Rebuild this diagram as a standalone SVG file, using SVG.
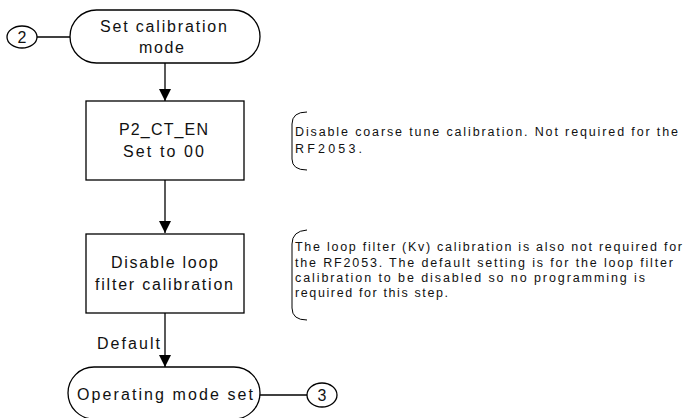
<svg xmlns="http://www.w3.org/2000/svg" width="684" height="418" viewBox="0 0 684 418">
<style>
.s{fill:#fff;stroke:#000;stroke-width:1.3}
.l{fill:none;stroke:#000;stroke-width:1.3}
.b{fill:none;stroke:#000;stroke-width:1}
.t{font-family:"Liberation Sans",Arial,sans-serif;font-size:16px;fill:#111}
.a{font-family:"Liberation Sans",Arial,sans-serif;font-size:12.5px;fill:#111}
</style>
<defs>
<marker id="ah" markerWidth="12" markerHeight="14" refX="12" refY="6" orient="auto" markerUnits="userSpaceOnUse">
<path d="M0,0 L12,6 L0,12 Z" fill="#000"/>
</marker>
</defs>
<g id="connectors">
<line class="l" x1="37" y1="37" x2="70" y2="37"/>
<line class="l" x1="165" y1="63" x2="165" y2="101" marker-end="url(#ah)"/>
<line class="l" x1="165" y1="180" x2="165" y2="233" marker-end="url(#ah)"/>
<line class="l" x1="165" y1="313" x2="165" y2="367" marker-end="url(#ah)"/>
<line class="l" x1="260" y1="395" x2="307" y2="395"/>
<text class="t" x="97" y="349" textLength="63" lengthAdjust="spacing">Default</text>
</g>
<g id="c2">
<ellipse class="s" cx="22" cy="37" rx="15" ry="11"/>
<text class="t" x="22" y="43" text-anchor="middle">2</text>
</g>
<g id="start">
<rect class="s" x="70" y="10" width="190" height="53" rx="26.5"/>
<text class="t" x="100" y="32" textLength="127" lengthAdjust="spacing">Set calibration</text>
<text class="t" x="139" y="53" textLength="45" lengthAdjust="spacing">mode</text>
</g>
<g id="box1">
<rect class="s" x="86" y="101" width="158" height="79"/>
<text class="t" x="119" y="135" textLength="89" lengthAdjust="spacing">P2_CT_EN</text>
<text class="t" x="123" y="157" textLength="81" lengthAdjust="spacing">Set to 00</text>
</g>
<g id="note1">
<path class="b" d="M307,112 Q292,112 292,124 L292,159 Q292,170 307,170"/>
<text class="a" x="295" y="136" textLength="383" lengthAdjust="spacing">Disable coarse tune calibration. Not required for the</text>
<text class="a" x="295" y="153" textLength="67" lengthAdjust="spacing">RF2053.</text>
</g>
<g id="box2">
<rect class="s" x="86" y="234" width="158" height="79"/>
<text class="t" x="111" y="268" textLength="107" lengthAdjust="spacing">Disable loop</text>
<text class="t" x="95" y="290" textLength="138" lengthAdjust="spacing">filter calibration</text>
</g>
<g id="note2">
<path class="b" d="M307,230 Q292,231 292,244 L292,308 Q292,320 307,320"/>
<text class="a" x="295" y="251" textLength="387" lengthAdjust="spacing">The loop filter (Kv) calibration is also not required for</text>
<text class="a" x="295" y="267" textLength="378" lengthAdjust="spacing">the RF2053. The default setting is for the loop filter</text>
<text class="a" x="295" y="282" textLength="350" lengthAdjust="spacing">calibration to be disabled so no programming is</text>
<text class="a" x="295" y="297" textLength="153" lengthAdjust="spacing">required for this step.</text>
</g>
<g id="end">
<rect class="s" x="68" y="367" width="192" height="52" rx="26"/>
<text class="t" x="77" y="400" textLength="176" lengthAdjust="spacing">Operating mode set</text>
</g>
<g id="c3">
<ellipse class="s" cx="322" cy="395" rx="15" ry="12"/>
<text class="t" x="322" y="401" text-anchor="middle">3</text>
</g>
</svg>
